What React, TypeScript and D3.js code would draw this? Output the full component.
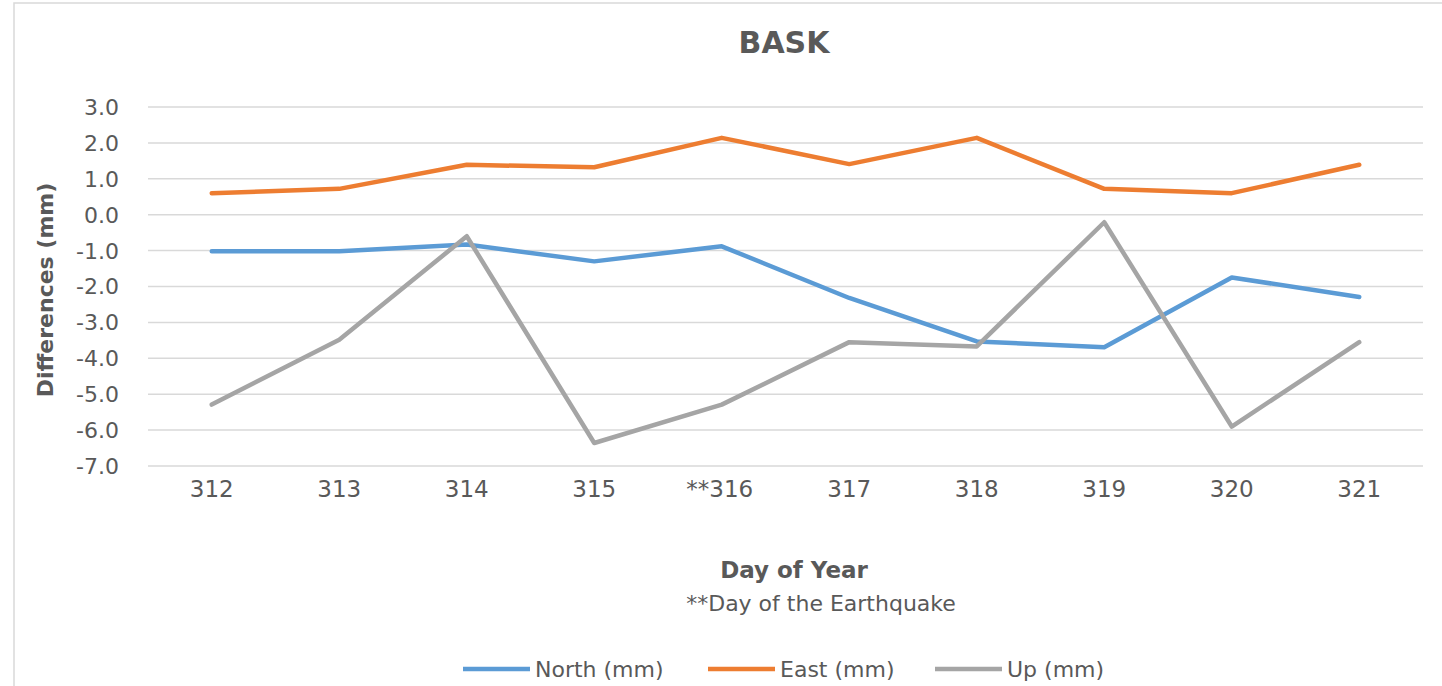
import React from "react";
import * as d3 from "d3";

const days = ["312", "313", "314", "315", "**316", "317", "318", "319", "320", "321"];
const north = [-1.02, -1.02, -0.83, -1.3, -0.88, -2.32, -3.53, -3.69, -1.75, -2.29];
const east = [0.6, 0.72, 1.39, 1.32, 2.14, 1.41, 2.14, 0.72, 0.6, 1.39];
const up = [-5.29, -3.48, -0.6, -6.36, -5.29, -3.55, -3.67, -0.21, -5.9, -3.55];
const yTicks = [3, 2, 1, 0, -1, -2, -3, -4, -5, -6, -7];
const seriesNames = ["North (mm)", "East (mm)", "Up (mm)"];
const seriesColors = ["#5B9BD5", "#ED7D31", "#A5A5A5"];

const W = 1442;
const H = 686;
const FONT = "'DejaVu Sans', Verdana, sans-serif";
const TXT = "#595959";

const fmt = (v: number) => d3.format(".1f")(v).replace("\u2212", "-");

export default function App() {
  const x = d3.scaleBand<string>().domain(days).range([148, 1423]);
  const y = d3.scaleLinear().domain([-7, 3]).range([466, 107]);
  const cx = (d: string) => (x(d) as number) + x.bandwidth() / 2;
  const line = d3
    .line<number>()
    .x((_, i) => cx(days[i]))
    .y((v) => y(v));
  const series = [north, east, up];
  const legendX = [463, 708, 935];

  return (
    <svg width={W} height={H} style={{ position: "absolute", left: 0, top: 0 }}>
      <rect x={0} y={0} width={W} height={H} fill="#fff" />
      <rect x={14} y={3} width={W + 10} height={H + 10} fill="#fff" stroke="#d9d9d9" strokeWidth={1.5} />
      <text x={784} y={53} textAnchor="middle" fontFamily={FONT} fontWeight="bold" fontSize={30} fill={TXT}>
        BASK
      </text>
      {yTicks.map((t) => (
        <g key={t}>
          <line x1={148} x2={1423} y1={y(t)} y2={y(t)} stroke="#d9d9d9" strokeWidth={1.5} />
          <text x={119} y={y(t)} dy="0.36em" textAnchor="end" fontFamily={FONT} fontSize={22} fill={TXT}>
            {fmt(t)}
          </text>
        </g>
      ))}
      {days.map((d) => (
        <text key={d} x={cx(d) + (d.startsWith("**") ? -2 : 0)} y={497} textAnchor="middle" fontFamily={FONT} fontSize={23} fill={TXT}>
          {d}
        </text>
      ))}
      <text
        transform={`translate(53,290) rotate(-90)`}
        textAnchor="middle"
        fontFamily={FONT}
        fontWeight="bold"
        fontSize={22}
        fill={TXT}
      >
        Differences (mm)
      </text>
      <text x={794} y={578} textAnchor="middle" fontFamily={FONT} fontWeight="bold" fontSize={23} fill={TXT}>
        Day of Year
      </text>
      <text x={821} y={611} textAnchor="middle" fontFamily={FONT} fontSize={22} fill={TXT}>
        **Day of the Earthquake
      </text>
      {series.map((s, i) => (
        <path
          key={i}
          d={line(s) as string}
          fill="none"
          stroke={seriesColors[i]}
          strokeWidth={4.5}
          strokeLinejoin="round"
          strokeLinecap="round"
        />
      ))}
      {seriesNames.map((n, i) => (
        <g key={n}>
          <line x1={legendX[i]} x2={legendX[i] + 67} y1={669} y2={669} stroke={seriesColors[i]} strokeWidth={4.5} />
          <text x={legendX[i] + 72} y={677} fontFamily={FONT} fontSize={22} fill={TXT}>
            {n}
          </text>
        </g>
      ))}
    </svg>
  );
}
